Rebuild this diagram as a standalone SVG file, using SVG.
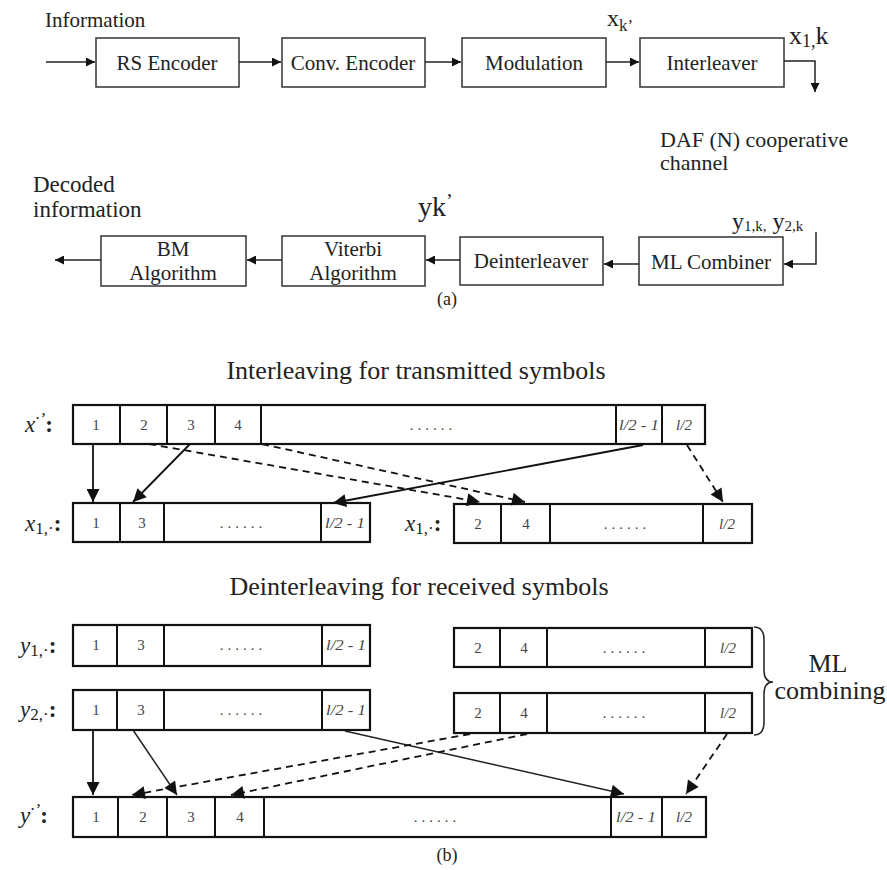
<svg xmlns="http://www.w3.org/2000/svg" width="887" height="870" viewBox="0 0 887 870" font-family="Liberation Serif, Times New Roman, serif">
<defs>
<style>
text{font-family:"Liberation Serif","Times New Roman",serif;fill:#222}
.box{fill:#fff;stroke:#333;stroke-width:1.5}
.cell{fill:#fff;stroke:#111;stroke-width:2.2}
.div{stroke:#111;stroke-width:2}
.lbl{font-size:21px;text-anchor:middle}
.num{font-size:15px;text-anchor:middle;fill:#444}
.dots{font-size:15px;text-anchor:middle;fill:#444}
.it{font-style:italic}
.ln{fill:none;stroke:#222;stroke-width:1.5}
.sl{fill:none;stroke:#111;stroke-width:1.8}
.dl{fill:none;stroke:#111;stroke-width:1.8;stroke-dasharray:7 5}
.ttl{font-size:26px;text-anchor:middle}
.rl{font-size:23px;font-style:italic}
</style>
<marker id="ah" viewBox="0 0 10 10" refX="10" refY="5" markerWidth="10" markerHeight="9" markerUnits="userSpaceOnUse" orient="auto"><path d="M0,0L10,5L0,10z" fill="#111"/></marker>
<marker id="ab" viewBox="0 0 10 10" refX="10" refY="5" markerWidth="14" markerHeight="13" markerUnits="userSpaceOnUse" orient="auto"><path d="M0,0L10,5L0,10z" fill="#111"/></marker>
</defs>

<!-- Part (a) -->
<text x="45" y="27" font-size="21">Information</text>
<g id="rs"><rect class="box" x="96" y="38" width="143" height="49"/><text class="lbl" x="167" y="70">RS Encoder</text></g>
<g id="conv"><rect class="box" x="282" y="38" width="143" height="49"/><text class="lbl" x="353" y="70">Conv. Encoder</text></g>
<g id="mod"><rect class="box" x="462" y="38" width="144" height="49"/><text class="lbl" x="534" y="70">Modulation</text></g>
<g id="inter"><rect class="box" x="640" y="38" width="144" height="49"/><text class="lbl" x="712" y="70">Interleaver</text></g>
<text x="607" y="26" font-size="24" fill="#1a1a3a">x<tspan font-size="17" dy="5" fill="#3a2230">k’</tspan></text>
<text x="789" y="44" font-size="26" fill="#1a2a4a">x<tspan font-size="18" dy="3">1,</tspan><tspan dy="-3">k</tspan></text>
<text x="660" y="147" font-size="22" fill="#2a1a1a">DAF (N) cooperative</text>
<text x="660" y="170" font-size="22" fill="#222">channel</text>

<g id="bm"><rect class="box" x="101" y="236" width="145" height="50"/><text class="lbl" x="173" y="256">BM</text><text class="lbl" x="173" y="280">Algorithm</text></g>
<g id="vit"><rect class="box" x="282" y="236" width="143" height="50"/><text class="lbl" x="353" y="256">Viterbi</text><text class="lbl" x="353" y="280">Algorithm</text></g>
<g id="deint"><rect class="box" x="460" y="237" width="143" height="48"/><text class="lbl" x="531" y="268">Deinterleaver</text></g>
<g id="mlc"><rect class="box" x="639" y="237" width="144" height="48"/><text class="lbl" x="711" y="269">ML Combiner</text></g>
<text x="33" y="192" font-size="23" fill="#2a1a1a">Decoded</text>
<text x="33" y="217" font-size="23">information</text>
<text x="418" y="216" font-size="28" fill="#1a1a3a">yk<tspan font-size="20" dy="-8">’</tspan></text>
<text x="732" y="229" font-size="24" fill="#1a2a4a">y<tspan font-size="15" dy="2">1,k,</tspan><tspan dy="-2"> y</tspan><tspan font-size="15" dy="2">2,k</tspan></text>
<text x="447" y="305" font-size="18" text-anchor="middle">(a)</text>

<g id="conn-a">
<line class="ln" x1="46" y1="62" x2="95" y2="62" marker-end="url(#ah)"/>
<line class="ln" x1="239" y1="62" x2="281" y2="62" marker-end="url(#ah)"/>
<line class="ln" x1="425" y1="62" x2="461" y2="62" marker-end="url(#ah)"/>
<line class="ln" x1="606" y1="62" x2="639" y2="62" marker-end="url(#ah)"/>
<polyline class="ln" points="784,61 815,61 815,92" marker-end="url(#ah)"/>
<polyline class="ln" points="816,232 816,264 784,264" marker-end="url(#ah)"/>
<line class="ln" x1="639" y1="264" x2="604" y2="264" marker-end="url(#ah)"/>
<line class="ln" x1="460" y1="260" x2="426" y2="260" marker-end="url(#ah)"/>
<line class="ln" x1="282" y1="260" x2="247" y2="260" marker-end="url(#ah)"/>
<line class="ln" x1="101" y1="260" x2="55" y2="260" marker-end="url(#ah)"/>
</g>

<!-- Part (b) -->
<text class="ttl" x="416" y="379">Interleaving for transmitted symbols</text>

<text class="rl" x="25" y="432">x<tspan font-size="17" dy="-8">·’</tspan><tspan dy="8" font-style="normal" font-weight="bold">:</tspan></text>
<g id="xrow">
<rect class="cell" x="73" y="405" width="632" height="39"/>
<path class="div" d="M120,405V444M167,405V444M215,405V444M261,405V444M616,405V444M662,405V444"/>
<text class="num" x="96" y="430">1</text><text class="num" x="144" y="430">2</text><text class="num" x="191" y="430">3</text><text class="num" x="238" y="430">4</text>
<text class="dots" x="433" y="430" letter-spacing="4">......</text>
<text class="num it" x="639" y="430" textLength="40" lengthAdjust="spacingAndGlyphs">l/2 - 1</text><text class="num it" x="684" y="430">l/2</text>
</g>

<text class="rl" x="25" y="531">x<tspan font-size="17" dy="3" font-style="normal">1,·</tspan><tspan dy="-3" font-style="normal" font-weight="bold">:</tspan></text>
<g id="x1a">
<rect class="cell" x="73" y="503" width="297" height="39"/>
<path class="div" d="M120,503V542M164,503V542M321,503V542"/>
<text class="num" x="96" y="528">1</text><text class="num" x="142" y="528">3</text>
<text class="dots" x="243" y="528" letter-spacing="4">......</text>
<text class="num it" x="345" y="528" textLength="40" lengthAdjust="spacingAndGlyphs">l/2 - 1</text>
</g>
<text class="rl" x="405" y="531">x<tspan font-size="17" dy="3" font-style="normal">1,·</tspan><tspan dy="-3" font-style="normal" font-weight="bold">:</tspan></text>
<g id="x1b">
<rect class="cell" x="454" y="504" width="298" height="39"/>
<path class="div" d="M501,504V543M550,504V543M703,504V543"/>
<text class="num" x="478" y="529">2</text><text class="num" x="526" y="529">4</text>
<text class="dots" x="627" y="529" letter-spacing="4">......</text>
<text class="num it" x="727" y="529">l/2</text>
</g>

<g id="conn-int">
<line class="sl" x1="93" y1="444" x2="93" y2="502" marker-end="url(#ab)"/>
<line class="sl" x1="190" y1="444" x2="133" y2="502" marker-end="url(#ab)"/>
<line class="sl" x1="643" y1="445" x2="333" y2="503" marker-end="url(#ab)"/>
<line class="dl" x1="149" y1="444" x2="480" y2="502" marker-end="url(#ab)"/>
<line class="dl" x1="262" y1="444" x2="525" y2="502" marker-end="url(#ab)"/>
<line class="dl" x1="687" y1="445" x2="723" y2="502" marker-end="url(#ab)"/>
</g>

<text class="ttl" x="419" y="595">Deinterleaving for received symbols</text>

<text class="rl" x="20" y="653">y<tspan font-size="17" dy="3" font-style="normal">1,·</tspan><tspan dy="-3" font-style="normal" font-weight="bold">:</tspan></text>
<g id="y1a">
<rect class="cell" x="73" y="625" width="297" height="41"/>
<path class="div" d="M117,625V666M164,625V666M322,625V666"/>
<text class="num" x="96" y="650">1</text><text class="num" x="141" y="650">3</text>
<text class="dots" x="243" y="650" letter-spacing="4">......</text>
<text class="num it" x="346" y="650" textLength="40" lengthAdjust="spacingAndGlyphs">l/2 - 1</text>
</g>
<g id="y1b">
<rect class="cell" x="454" y="628" width="298" height="39"/>
<path class="div" d="M500,628V667M547,628V667M705,628V667"/>
<text class="num" x="478" y="653">2</text><text class="num" x="524" y="653">4</text>
<text class="dots" x="626" y="653" letter-spacing="4">......</text>
<text class="num it" x="728" y="653">l/2</text>
</g>

<text class="rl" x="20" y="717">y<tspan font-size="17" dy="3" font-style="normal">2,·</tspan><tspan dy="-3" font-style="normal" font-weight="bold">:</tspan></text>
<g id="y2a">
<rect class="cell" x="73" y="690" width="297" height="40"/>
<path class="div" d="M117,690V730M164,690V730M322,690V730"/>
<text class="num" x="96" y="715">1</text><text class="num" x="141" y="715">3</text>
<text class="dots" x="243" y="715" letter-spacing="4">......</text>
<text class="num it" x="346" y="715" textLength="40" lengthAdjust="spacingAndGlyphs">l/2 - 1</text>
</g>
<g id="y2b">
<rect class="cell" x="454" y="693" width="298" height="40"/>
<path class="div" d="M500,693V733M547,693V733M705,693V733"/>
<text class="num" x="478" y="718">2</text><text class="num" x="524" y="718">4</text>
<text class="dots" x="626" y="718" letter-spacing="4">......</text>
<text class="num it" x="728" y="718">l/2</text>
</g>

<g id="brace">
<path d="M754,627 Q764,627 764,640 L764,670 Q764,682 773,682 Q764,682 764,694 L764,722 Q764,735 754,735" fill="none" stroke="#222" stroke-width="1.5"/>
<text x="828" y="672" font-size="26" text-anchor="middle">ML</text>
<text x="830" y="699" font-size="26" text-anchor="middle">combining</text>
</g>

<text class="rl" x="20" y="823">y<tspan font-size="17" dy="-8">·’</tspan><tspan dy="8" font-style="normal" font-weight="bold">:</tspan></text>
<g id="yrow">
<rect class="cell" x="73" y="797" width="633" height="40"/>
<path class="div" d="M118,797V837M167,797V837M215,797V837M264,797V837M611,797V837M662,797V837"/>
<text class="num" x="96" y="822">1</text><text class="num" x="143" y="822">2</text><text class="num" x="191" y="822">3</text><text class="num" x="240" y="822">4</text>
<text class="dots" x="437" y="822" letter-spacing="4">......</text>
<text class="num it" x="636" y="822" textLength="40" lengthAdjust="spacingAndGlyphs">l/2 - 1</text><text class="num it" x="684" y="822">l/2</text>
</g>
<text x="447" y="861" font-size="18" text-anchor="middle">(b)</text>

<g id="conn-deint">
<line class="sl" x1="93" y1="730" x2="93" y2="795" marker-end="url(#ab)"/>
<line class="ln" x1="133" y1="730" x2="177" y2="795" marker-end="url(#ab)"/>
<line class="ln" x1="345" y1="731" x2="624" y2="794" marker-end="url(#ab)"/>
<line class="dl" x1="470" y1="734" x2="132" y2="795" marker-end="url(#ab)"/>
<line class="dl" x1="527" y1="734" x2="231" y2="795" marker-end="url(#ab)"/>
<line class="dl" x1="727" y1="734" x2="686" y2="794" marker-end="url(#ab)"/>
</g>
</svg>
